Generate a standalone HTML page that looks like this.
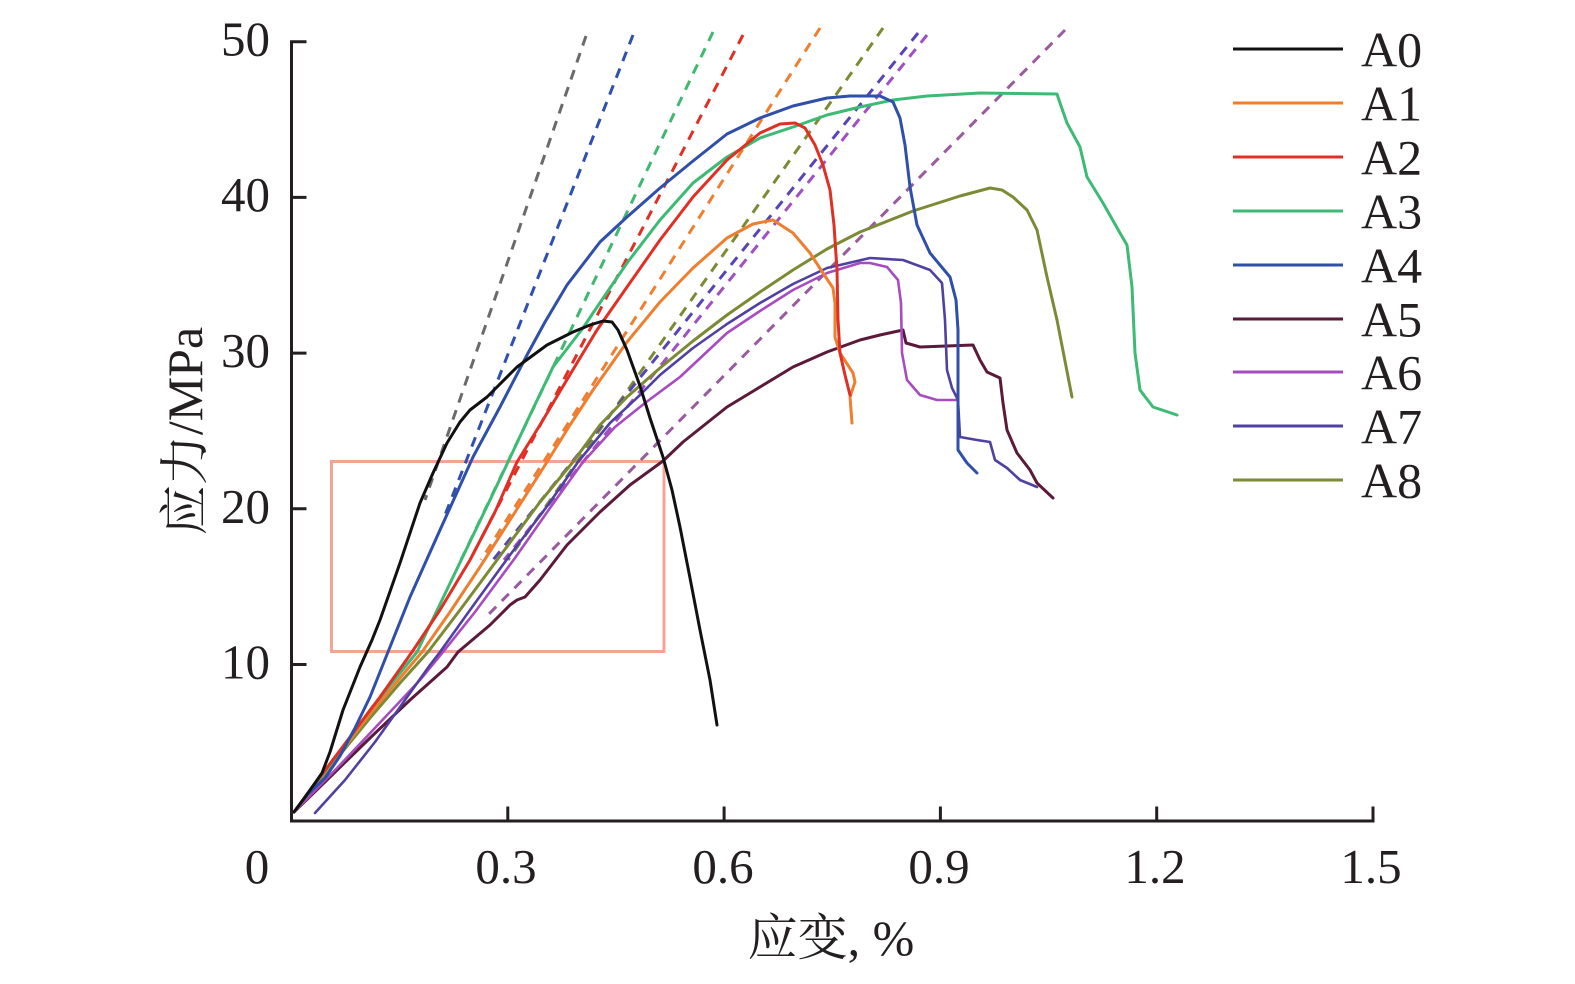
<!DOCTYPE html>
<html>
<head>
<meta charset="utf-8">
<style>
  html, body { margin:0; padding:0; background:#fff; }
  svg { display:block; }
  text { font-family: "Liberation Serif", "Noto Serif CJK SC", serif; fill:#231f20; }
</style>
</head>
<body>
<svg width="1575" height="984" viewBox="0 0 1575 984" xmlns="http://www.w3.org/2000/svg">
  <rect width="1575" height="984" fill="#fff"/>

  <!-- highlight rectangle -->
  <rect x="331.5" y="461.5" width="332.5" height="190" fill="none" stroke="#f2a594" stroke-width="3"/>

  <!-- dashed tangent lines -->
  <g fill="none" stroke-width="3" stroke-dasharray="10 8" stroke-linecap="butt">
    <line x1="586" y1="36" x2="425" y2="500" stroke="#6a6a6a"/>
    <line x1="633" y1="35" x2="445" y2="515" stroke="#3050b0"/>
    <line x1="713" y1="32" x2="461" y2="560" stroke="#40b870"/>
    <line x1="743" y1="35" x2="470" y2="560" stroke="#e03025"/>
    <line x1="820" y1="28" x2="481" y2="560" stroke="#ee7f30"/>
    <line x1="883" y1="28" x2="508" y2="560" stroke="#7d8a35"/>
    <line x1="918" y1="33" x2="493" y2="560" stroke="#5845b5"/>
    <line x1="927" y1="35" x2="504" y2="560" stroke="#a050c0"/>
    <line x1="1065" y1="30" x2="485" y2="618" stroke="#9a5a9e"/>
  </g>

  <!-- solid curves -->
  <g fill="none" stroke-width="3" stroke-linejoin="round" stroke-linecap="round">
    <!-- A5 maroon -->
    <polyline stroke="#5b1a3a" points="294,812 330,777 370,738 410,700 447,667 458,652 490,625 510,605 517,600 525,597 540,580 567,545 600,512 630,485 663,461 683,442 727,407 760,387 793,367 827,352 860,340 880,335 903,330 906,343 920,347 973,345 980,360 987,372 1000,378 1003,403 1007,430 1017,453 1030,470 1037,483 1053,498"/>
    <!-- A6 violet -->
    <polyline stroke="#a64cbf" stroke-width="2.6" points="294,812 340,765 390,712 420,680 443,652 475,612 515,558 550,508 583,462 615,427 645,403 680,377 727,333 760,311 793,290 827,273 860,263 870,263 887,267 898,280 901,303 902,353 907,380 920,395 937,400 957,400"/>
    <!-- A7 indigo -->
    <polyline stroke="#5040a0" stroke-width="2.6" points="315,813 345,780 375,742 405,700 430,665 440,652 470,610 510,555 548,505 578,462 610,423 640,395 660,375 693,348 727,324 760,303 793,284 827,268 870,258 903,260 930,270 942,283 945,320 947,370 952,388 958,400 960,437 977,440 990,442 995,460 1007,468 1020,480 1037,487"/>
    <!-- A8 olive -->
    <polyline stroke="#7d8a35" points="294,812 330,767 370,718 400,683 428,652 460,610 500,556 540,502 573,462 600,425 627,397 660,368 693,341 727,315 760,292 793,270 827,249 860,232 913,211 960,196 990,188 1002,190 1013,197 1027,210 1037,230 1047,277 1057,320 1072,397"/>
    <!-- A1 orange -->
    <polyline stroke="#ee7f30" points="294,812 330,766 370,714 400,678 422,652 450,612 480,567 510,520 547,462 570,425 593,390 627,342 660,302 693,268 727,238 753,224 773,220 793,233 810,253 823,273 833,288 835,303 835,337 840,353 853,373 855,382 850,397 852,423"/>
    <!-- A3 green -->
    <polyline stroke="#3dba74" points="294,812 330,765 370,710 417,652 442,600 466,550 490,500 508,462 531,413 553,367 583,328 593,313 627,263 660,220 693,183 727,157 760,138 793,127 827,115 860,107 893,100 927,96 980,93 1057,94 1060,103 1067,123 1080,147 1087,177 1103,203 1120,233 1127,245 1132,287 1135,353 1140,390 1153,407 1177,415"/>
    <!-- A2 red -->
    <polyline stroke="#e03025" points="294,812 320,777 350,737 380,697 412,652 440,610 470,560 495,512 517,462 540,425 562,388 580,358 597,330 627,287 660,240 693,197 727,160 760,133 780,124 795,123 805,128 815,145 823,165 830,190 834,225 837,270 838,320 840,353 845,375 850,395"/>
    <!-- A4 blue -->
    <polyline stroke="#2f4fa8" points="294,812 308,794 325,778 340,756 355,728 370,697 388,652 410,597 440,530 473,457 500,407 527,355 545,322 567,285 600,242 627,217 660,188 693,161 727,134 760,118 793,106 827,98 850,96 880,96 893,102 900,118 905,145 910,187 917,225 930,253 950,277 956,300 958,330 958,403 958,450 967,463 977,473"/>
    <!-- A0 black -->
    <polyline stroke="#111111" points="294,812 305,797 315,783 322,773 330,752 343,710 360,667 372,640 380,620 400,563 420,503 433,473 447,443 460,422 470,410 487,397 517,367 547,345 573,332 590,325 603,321 612,322 618,330 627,350 640,386 650,418 663,457 672,490 680,527 690,578 700,630 710,680 717,725"/>
  </g>

  <!-- axes -->
  <g stroke="#231f20" stroke-width="3" fill="none" stroke-linecap="square">
    <polyline points="305,41.7 291.5,41.7 291.5,821 1373,821 1373,808"/>
    <line x1="291.5" y1="197.4" x2="305" y2="197.4"/>
    <line x1="291.5" y1="353.1" x2="305" y2="353.1"/>
    <line x1="291.5" y1="508.8" x2="305" y2="508.8"/>
    <line x1="291.5" y1="664.5" x2="305" y2="664.5"/>
    <line x1="507.8" y1="821" x2="507.8" y2="808"/>
    <line x1="724.1" y1="821" x2="724.1" y2="808"/>
    <line x1="940.4" y1="821" x2="940.4" y2="808"/>
    <line x1="1156.7" y1="821" x2="1156.7" y2="808"/>
  </g>

  <!-- y tick labels -->
  <g font-size="49" text-anchor="end">
    <text x="270" y="55.5">50</text>
    <text x="270" y="211">40</text>
    <text x="270" y="367">30</text>
    <text x="270" y="523">20</text>
    <text x="270" y="678.5">10</text>
  </g>
  <!-- x tick labels -->
  <g font-size="49" text-anchor="middle">
    <text x="257" y="883">0</text>
    <text x="506" y="883">0.3</text>
    <text x="723" y="883">0.6</text>
    <text x="939" y="883">0.9</text>
    <text x="1155" y="883">1.2</text>
    <text x="1371" y="883">1.5</text>
  </g>

  <!-- axis titles -->
  <text x="831" y="955" font-size="50" text-anchor="middle">应变, %</text>
  <text transform="translate(202,431) rotate(-90)" font-size="50" text-anchor="middle">应力/MPa</text>

  <!-- legend -->
  <g stroke-width="3">
    <line x1="1233" y1="49" x2="1343" y2="49" stroke="#111111"/>
    <line x1="1233" y1="103" x2="1343" y2="103" stroke="#ee7f30"/>
    <line x1="1233" y1="157" x2="1343" y2="157" stroke="#e03025"/>
    <line x1="1233" y1="211" x2="1343" y2="211" stroke="#3dba74"/>
    <line x1="1233" y1="265" x2="1343" y2="265" stroke="#2f4fa8"/>
    <line x1="1233" y1="319" x2="1343" y2="319" stroke="#5b1a3a"/>
    <line x1="1233" y1="372" x2="1343" y2="372" stroke="#a64cbf"/>
    <line x1="1233" y1="426" x2="1343" y2="426" stroke="#5040a0"/>
    <line x1="1233" y1="480" x2="1343" y2="480" stroke="#7d8a35"/>
  </g>
  <g font-size="50">
    <text x="1361" y="66.5">A0</text>
    <text x="1361" y="120.5">A1</text>
    <text x="1361" y="174.5">A2</text>
    <text x="1361" y="228.5">A3</text>
    <text x="1361" y="282.5">A4</text>
    <text x="1361" y="336.5">A5</text>
    <text x="1361" y="389.5">A6</text>
    <text x="1361" y="443.5">A7</text>
    <text x="1361" y="497.5">A8</text>
  </g>
</svg>
</body>
</html>
